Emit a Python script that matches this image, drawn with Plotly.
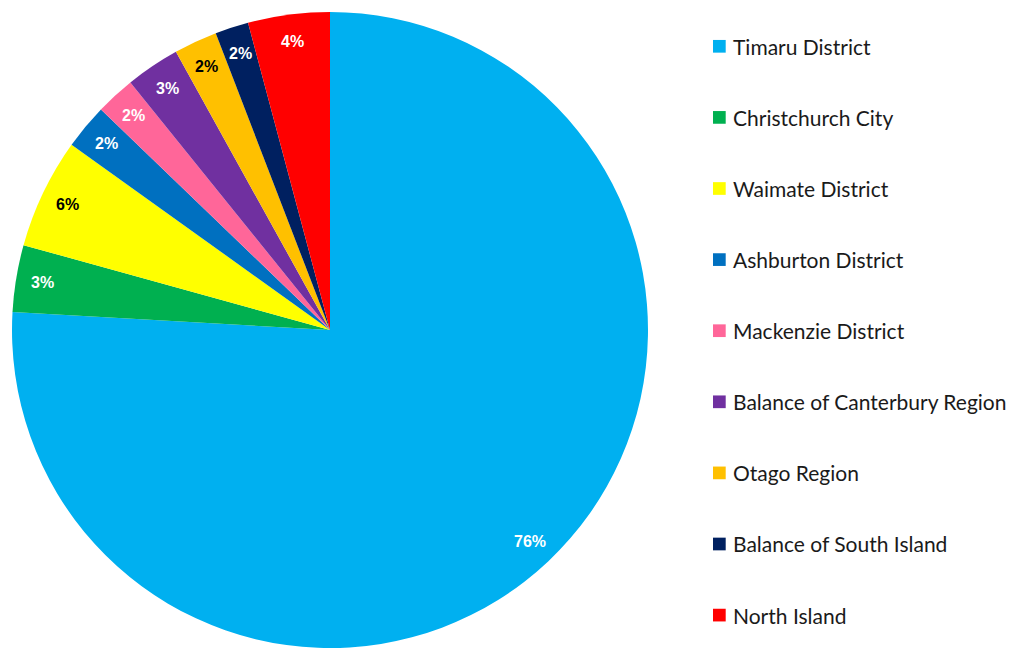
import math
import plotly.graph_objects as go

# Share of visitors by area of origin (percent)
areas = [
    "Timaru District",
    "Christchurch City",
    "Waimate District",
    "Ashburton District",
    "Mackenzie District",
    "Balance of Canterbury Region",
    "Otago Region",
    "Balance of South Island",
    "North Island",
]
shares = [75.9, 3.4, 5.6, 2.3, 2.0, 2.75, 2.2, 1.7, 4.15]
colors = [
    "#00B0F0", "#00B050", "#FFFF00", "#0070C0", "#FF6699",
    "#7030A0", "#FFC000", "#002060", "#FF0000",
]
label_colors = ["white", "white", "black", "white", "white",
                "white", "black", "white", "white"]

W, H = 1011, 648
# pie geometry in pixels
cx, cy, R = 330.0, 330.0, 318.0

fig = go.Figure(
    go.Pie(
        labels=areas,
        values=shares,
        sort=False,
        direction="clockwise",
        rotation=0,
        marker=dict(colors=colors, line=dict(width=0)),
        textinfo="none",
        hoverinfo="label+percent",
        showlegend=False,
        domain=dict(x=[(cx - R) / W, (cx + R) / W], y=[0, (2 * R) / H]),
    )
)

annotations = []
shapes = []

# percentage labels placed along each slice's bisector
total = sum(shares)
cum = 0.0
for v, col in zip(shares, label_colors):
    mid = (cum + v / 2) / total * 2 * math.pi
    cum += v
    r = 0.915 * R
    px = cx + r * math.sin(mid)
    py = cy - r * math.cos(mid)
    pct = int(v / total * 100 + 0.5)
    annotations.append(dict(
        x=px / W, y=1 - py / H, xref="paper", yref="paper",
        text=f"{pct}%", showarrow=False,
        xanchor="center", yanchor="middle",
        font=dict(family="Liberation Sans, Arial", size=16, color=col, weight="bold"),
    ))

# legend column
y0, step = 46.3, 71.1
sq = 12.7
for i, (name, col) in enumerate(zip(areas, colors)):
    yc = y0 + i * step
    shapes.append(dict(
        type="rect", xref="paper", yref="paper",
        x0=713 / W, x1=(713 + sq) / W,
        y0=1 - (yc + sq / 2) / H, y1=1 - (yc - sq / 2) / H,
        fillcolor=col, line=dict(width=0),
    ))
    annotations.append(dict(
        x=731 / W, y=1 - yc / H, xref="paper", yref="paper",
        text=name, showarrow=False, xanchor="left", yanchor="middle",
        font=dict(family="Lato", size=21, color="#1a1a1a"),
    ))

fig.update_layout(
    width=W, height=H,
    margin=dict(l=0, r=0, t=0, b=0),
    paper_bgcolor="white",
    plot_bgcolor="white",
    annotations=annotations,
    shapes=shapes,
)

fig.write_html("out.html")
